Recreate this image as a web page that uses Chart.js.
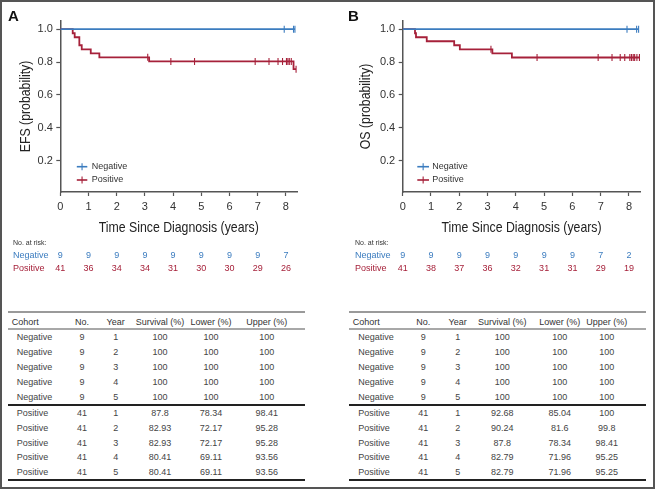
<!DOCTYPE html>
<html><head><meta charset="utf-8">
<script src="https://cdn.jsdelivr.net/npm/chart.js@4.4.0/dist/chart.umd.min.js"></script>
<style>
html,body{margin:0;padding:0;background:#fff;}
#fig{position:relative;width:655px;height:489px;overflow:hidden;background:#fff;font-family:'Liberation Sans',Arial,sans-serif;}
#frame{position:absolute;left:0;top:0;width:655px;height:489px;box-sizing:border-box;border:2px solid #555;z-index:5;pointer-events:none;}
canvas{position:absolute;top:0;}
.panel{position:absolute;font-weight:bold;font-size:15px;line-height:15px;color:#111;}
.t{position:absolute;font-size:9px;line-height:9px;color:#333;white-space:nowrap;}
.c{transform:translate(-50%,-50%);}
.l{transform:translate(0,-50%);}
.hl{position:absolute;height:2px;}
</style>
</head><body>
<div id="fig">
  <canvas id="cA" width="330" height="285" style="left:0;width:330px;height:285px"></canvas>
  <canvas id="cB" width="325" height="285" style="left:330px;width:325px;height:285px"></canvas>
  <div class="panel" style="left:8px;top:8px">A</div>
  <div class="panel" style="left:348px;top:8px">B</div>
  <div id="tabs"></div>
  <div id="frame"></div>
</div>
<script>
// ---------- DATA ----------
const years = [0, 1, 2, 3, 4, 5, 6, 7, 8];
const groups = ['Negative', 'Positive'];
const xTitle = 'Time Since Diagnosis (years)';

// Panel A: EFS
const efsNegTimes = [0, 8.32];
const efsNegSurv = [1, 1];
const efsNegCensor = [7.94, 8.27, 8.32];
const efsPosTimes = [0, 0.44, 0.51, 0.675, 0.76, 1.08, 1.385, 3.15, 8.27, 8.36];
const efsPosSurv = [1, 0.9756, 0.9512, 0.9024, 0.878, 0.8537, 0.8293, 0.8041, 0.757, 0.757];
const efsPosCensor = [3.10, 3.92, 4.76, 6.91, 7.40, 7.72, 7.88, 8.02, 8.07, 8.12, 8.19, 8.36];
const efsRiskNeg = [9, 9, 9, 9, 9, 9, 9, 9, 7];
const efsRiskPos = [41, 36, 34, 34, 31, 30, 30, 29, 26];

// Panel B: OS
const osNegTimes = [0, 8.34];
const osNegSurv = [1, 1];
const osNegCensor = [7.93, 8.27, 8.34];
const osPosTimes = [0, 0.435, 0.47, 0.85, 1.82, 2.02, 3.17, 3.86, 8.37];
const osPosSurv = [1, 0.9756, 0.9512, 0.9268, 0.9024, 0.878, 0.8529, 0.8279, 0.8279];
const osPosCensor = [3.12, 4.75, 6.91, 7.40, 7.69, 7.85, 8.03, 8.09, 8.15, 8.20, 8.28, 8.37];
const osRiskNeg = [9, 9, 9, 9, 9, 9, 9, 7, 2];
const osRiskPos = [41, 38, 37, 36, 32, 31, 31, 29, 19];

// Tables
const tableHeaders = ['Cohort', 'No.', 'Year', 'Survival (%)', 'Lower (%)', 'Upper (%)'];
const tabCohort = ['Negative','Negative','Negative','Negative','Negative','Positive','Positive','Positive','Positive','Positive'];
const tabNo = [9, 9, 9, 9, 9, 41, 41, 41, 41, 41];
const tabYear = [1, 2, 3, 4, 5, 1, 2, 3, 4, 5];
const efsTabSurv = [100, 100, 100, 100, 100, 87.8, 82.93, 82.93, 80.41, 80.41];
const efsTabLower = [100, 100, 100, 100, 100, 78.34, 72.17, 72.17, 69.11, 69.11];
const efsTabUpper = [100, 100, 100, 100, 100, 98.41, 95.28, 95.28, 93.56, 93.56];
const osTabSurv = [100, 100, 100, 100, 100, 92.68, 90.24, 87.8, 82.79, 82.79];
const osTabLower = [100, 100, 100, 100, 100, 85.04, 81.6, 78.34, 71.96, 71.96];
const osTabUpper = [100, 100, 100, 100, 100, 100, 99.8, 98.41, 95.25, 95.25];

// ---------- STYLE ----------
const BLUE = '#3b7cbf';
const RED = '#a6213a';
const FAM = "'Liberation Sans', Arial, sans-serif";
const AXIS = '#555';
const CONDENSE = 0.82;

function levelAt(ts, ss, t) {
  let v = ss[0];
  for (let i = 0; i < ts.length; i++) if (ts[i] <= t) v = ss[i];
  return v;
}
const toPts = (ts, ss) => ts.map((t, i) => ({x: t, y: ss[i]}));
const censPts = (cs, ts, ss) => cs.map(c => ({x: c, y: levelAt(ts, ss, c)}));

function kmChart(id, cfg) {
  const overlay = {
    id: 'overlay' + id,
    afterDraw(chart) {
      const ctx = chart.ctx, ca = chart.chartArea, xs = chart.scales.x;
      ctx.save();
      // axis titles (condensed)
      ctx.fillStyle = '#222'; ctx.font = '15px ' + FAM; ctx.textAlign = 'center'; ctx.textBaseline = 'middle';
      ctx.save(); ctx.translate((ca.left + ca.right) / 2, 228); ctx.scale(CONDENSE, 1); ctx.fillText(xTitle, 0, 0); ctx.restore();
      ctx.save(); ctx.translate(cfg.yTitleX, (ca.top + ca.bottom) / 2); ctx.rotate(-Math.PI / 2); ctx.scale(CONDENSE, 1); ctx.fillText(cfg.yTitle, 0, 0); ctx.restore();
      // legend
      const leg = [{label: groups[0], color: BLUE, y: 166.7}, {label: groups[1], color: RED, y: 180}];
      leg.forEach(it => {
        const x0 = ca.left + cfg.legLine[0], x1 = ca.left + cfg.legLine[1];
        ctx.strokeStyle = it.color; ctx.lineWidth = 1.6;
        ctx.beginPath(); ctx.moveTo(x0, it.y); ctx.lineTo(x1, it.y); ctx.stroke();
        ctx.lineWidth = 1.1;
        ctx.beginPath(); ctx.moveTo((x0 + x1) / 2, it.y - 3.5); ctx.lineTo((x0 + x1) / 2, it.y + 3.5); ctx.stroke();
        ctx.fillStyle = '#333'; ctx.font = '9px ' + FAM; ctx.textBaseline = 'middle'; ctx.textAlign = 'left';
        ctx.fillText(it.label, ca.left + cfg.legText, it.y);
      });
      // number at risk
      ctx.textBaseline = 'middle';
      ctx.textAlign = 'left'; ctx.fillStyle = '#333'; ctx.font = '7px ' + FAM;
      ctx.fillText('No. at risk:', cfg.riskX, 242.7);
      const rows = [{label: groups[0], vals: cfg.riskNeg, color: BLUE, y: 255.3}, {label: groups[1], vals: cfg.riskPos, color: RED, y: 269}];
      rows.forEach(r => {
        ctx.font = '9px ' + FAM; ctx.fillStyle = r.color;
        ctx.textAlign = 'left'; ctx.fillText(r.label, cfg.riskX, r.y);
        ctx.textAlign = 'center';
        years.forEach((yr, i) => ctx.fillText(String(r.vals[i]), xs.getPixelForValue(yr), r.y));
      });
      ctx.restore();
    }
  };
  return new Chart(document.getElementById(id), {
    type: 'scatter',
    data: {
      datasets: [
        {label: groups[0], data: toPts(cfg.negT, cfg.negS), showLine: true, stepped: true, borderColor: BLUE, borderWidth: 1.8, pointRadius: 0, fill: false},
        {label: groups[1], data: toPts(cfg.posT, cfg.posS), showLine: true, stepped: true, borderColor: RED, borderWidth: 1.8, pointRadius: 0, fill: false},
        {label: 'nc', data: censPts(cfg.negC, cfg.negT, cfg.negS), showLine: false, pointStyle: 'line', pointRotation: 90, pointRadius: 3.5, pointBorderColor: BLUE, pointBorderWidth: 1.1},
        {label: 'pc', data: censPts(cfg.posC, cfg.posT, cfg.posS), showLine: false, pointStyle: 'line', pointRotation: 90, pointRadius: 3.5, pointBorderColor: RED, pointBorderWidth: 1.1}
      ]
    },
    options: {
      responsive: false, animation: false, devicePixelRatio: 1,
      layout: {padding: {left: 0, top: 21, right: cfg.padRight, bottom: 48}},
      plugins: {legend: {display: false}, tooltip: {enabled: false}},
      scales: {
        x: {
          type: 'linear', min: 0, max: 8.4,
          afterFit: s => { s.height = 45; },
          ticks: {stepSize: 1, includeBounds: false, autoSkip: false, maxRotation: 0, padding: 4, color: '#333', font: {size: 11, family: FAM}},
          grid: {drawOnChartArea: false, drawTicks: true, tickLength: 4, color: AXIS, tickWidth: 1.2},
          border: {display: true, color: AXIS, width: 1.5},
          title: {display: false}
        },
        y: {
          min: 0.01, max: 1.05,
          afterFit: s => { s.width = cfg.yWidth; },
          ticks: {stepSize: 0.2, includeBounds: false, padding: 3.5, color: '#333', font: {size: 11, family: FAM}, callback: v => v.toFixed(1)},
          grid: {drawOnChartArea: false, drawTicks: true, tickLength: 4, color: AXIS, tickWidth: 1.2},
          border: {display: true, color: AXIS, width: 1.5},
          title: {display: false}
        }
      }
    },
    plugins: [overlay]
  });
}

kmChart('cA', {negT: efsNegTimes, negS: efsNegSurv, negC: efsNegCensor, posT: efsPosTimes, posS: efsPosSurv, posC: efsPosCensor,
  riskNeg: efsRiskNeg, riskPos: efsRiskPos, riskX: 13, yWidth: 60.3, padRight: 32.8, yTitle: 'EFS (probability)', yTitleX: 26,
  legLine: [16.5, 27], legText: 31.5});
kmChart('cB', {negT: osNegTimes, negS: osNegSurv, negC: osNegCensor, posT: osPosTimes, posS: osPosSurv, posC: osPosCensor,
  riskNeg: osRiskNeg, riskPos: osRiskPos, riskX: 25, yWidth: 72.7, padRight: 14.7, yTitle: 'OS (probability)', yTitleX: 35.5,
  legLine: [14.6, 26.3], legText: 29.6});

// ---------- TABLES ----------
function buildTable(left, cols, surv, lower, upper) {
  const host = document.getElementById('tabs');
  const width = 297;
  const add = (html) => host.insertAdjacentHTML('beforeend', html);
  const line = (y, color) => add(`<div class="hl" style="left:${left}px;top:${y - 1}px;width:${width}px;background:${color}"></div>`);
  line(312.3, '#9a9a9a'); line(329, '#a8a8a8'); line(405, '#222'); line(480, '#222');
  const headY = 321.7;
  add(`<div class="t l" style="left:${left + cols.cohort}px;top:${headY}px">${tableHeaders[0]}</div>`);
  for (let k = 1; k < 6; k++) add(`<div class="t c" style="left:${left + cols.centers[k - 1]}px;top:${headY}px">${tableHeaders[k]}</div>`);
  for (let i = 0; i < 10; i++) {
    const y = i < 5 ? 337.3 + i * 14.85 : 412.7 + (i - 5) * 14.9;
    const cells = [tabNo[i], tabYear[i], surv[i], lower[i], upper[i]];
    add(`<div class="t l" style="left:${left + cols.first}px;top:${y}px;color:#444">${tabCohort[i]}</div>`);
    cells.forEach((v, k) => add(`<div class="t c" style="left:${left + cols.centers[k]}px;top:${y}px;color:#444">${v}</div>`));
  }
}
buildTable(8, {cohort: 3.7, first: 8.7, centers: [74, 107.7, 152, 203, 258.7]}, efsTabSurv, efsTabLower, efsTabUpper);
buildTable(349, {cohort: 3.7, first: 9.3, centers: [74.3, 108.7, 153.3, 210.7, 257.7]}, osTabSurv, osTabLower, osTabUpper);
</script>
</body></html>
